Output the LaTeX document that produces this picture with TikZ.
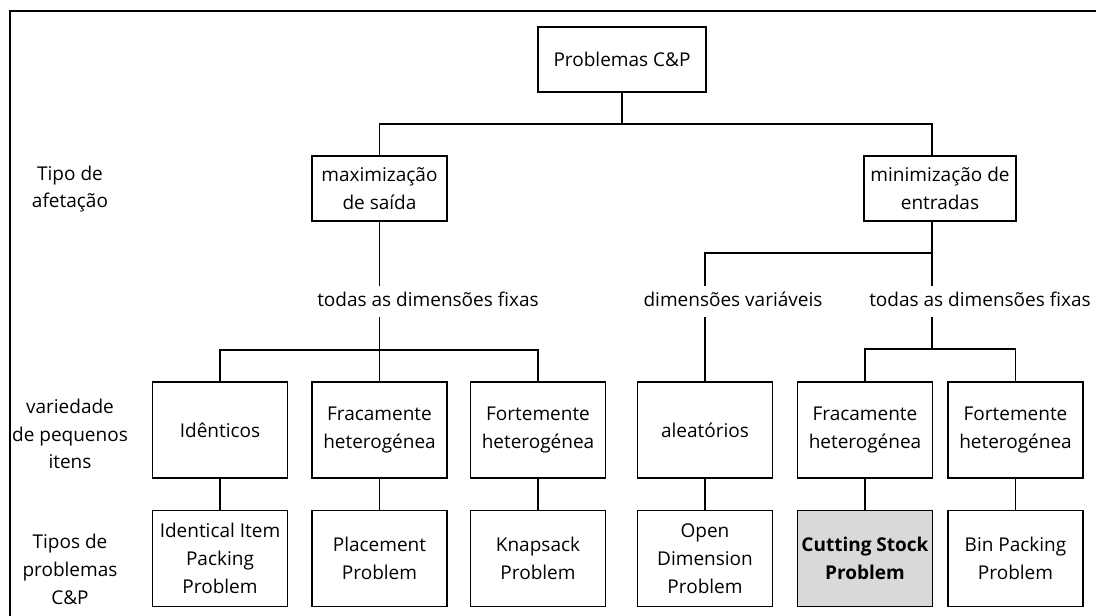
\documentclass[tikz,border=0pt]{standalone}
\usepackage{fontspec}
\setmainfont{Open Sans}
\usepackage{xcolor}
\definecolor{cinzento}{HTML}{D9D9D9}

\begin{document}
\begin{tikzpicture}[x=1pt, y=-1pt,
  caixa/.style={draw, line width=1.3pt, minimum width=\largura pt, minimum height=\altura pt,
    align=center, inner sep=2pt},
  rotulo/.style={align=center, inner sep=0pt, text height=13pt, text depth=4pt, outer sep=0pt},
  ligacao/.style={line width=1.3pt}]
% Parametros das caixas
\def\largura{135}
\def\altura{96}
\def\yC{430}
\def\yD{558.5}
\fontsize{19}{27.8}\selectfont

% Area do desenho e moldura
\useasboundingbox (0,0) rectangle (1096,616);
\draw[line width=1.3pt] (10,616) |- (1096,11);

% Raiz e primeiro nivel
\node[caixa, minimum width=168pt, minimum height=65pt] (topo) at (622,59.5) {Problemas C\&P};
\node[caixa, minimum height=65pt] (maxi) at (379.5,188.5) {maximização\\de saída};
\node[caixa, minimum width=152pt, minimum height=65pt] (mini) at (940,188.5) {minimização de\\entradas};

% Rotulos dos ramos
\node[rotulo] (tdE) at (428,302) {todas as dimensões fixas};
\node[rotulo] (dv) at (733,302) {dimensões variáveis};
\node[rotulo] (tdD) at (980,302) {todas as dimensões fixas};

% Variedade de pequenos itens
\node[caixa] (b1) at (220,\yC) {Idênticos};
\node[caixa] (b2) at (379.5,\yC) {Fracamente\\heterogénea};
\node[caixa] (b3) at (538,\yC) {Fortemente\\heterogénea};
\node[caixa] (b4) at (705,\yC) {aleatórios};
\node[caixa] (b5) at (865,\yC) {Fracamente\\heterogénea};
\node[caixa] (b6) at (1015.5,\yC) {Fortemente\\heterogénea};

% Tipos de problemas
\node[caixa] (p1) at (220,\yD) {Identical Item\\Packing\\Problem};
\node[caixa] (p2) at (379.5,\yD) {Placement\\Problem};
\node[caixa] (p3) at (538,\yD) {Knapsack\\Problem};
\node[caixa] (p4) at (705,\yD) {Open\\Dimension\\Problem};
\node[caixa, fill=cinzento, font=\bfseries] (p5) at (865,\yD) {Cutting Stock\\Problem};
\node[caixa] (p6) at (1015.5,\yD) {Bin Packing\\Problem};

% Legendas a esquerda
\node[align=center] (leg1) at (70,189) {Tipo de\\afetação};
\node[align=center] (leg2) at (70,434) {variedade\\de pequenos\\itens};
\node[align=center] (leg3) at (70,569.5) {Tipos de\\problemas\\C\&P};

% Pontos de ramificacao
\coordinate (ramoT) at (622,124);
\coordinate (ramoD) at (932,253);
\coordinate (ramoE) at (379.5,350);
\coordinate (ramoF) at (932,349);

% Ligacoes
\draw[ligacao] (topo.south) -- (ramoT);
\draw[ligacao] (maxi.north) |- (ramoT) -| (ramoD |- mini.north);
\draw[ligacao] (maxi.south) -- (maxi.south |- 0,286);
\draw[ligacao] (maxi.south |- 0,317) -- (ramoE);
\draw[ligacao] (b1.north) |- (ramoE) -| (b3.north);
\draw[ligacao] (ramoE) -- (b2.north);
\draw[ligacao] (ramoD |- mini.south) -- (ramoD |- 0,286);
\draw[ligacao] (ramoD) -| (b4.north |- 0,286);
\draw[ligacao] (b4.north |- 0,317) -- (b4.north);
\draw[ligacao] (ramoD |- 0,317) -- (ramoF);
\draw[ligacao] (b5.north) |- (ramoF) -| (b6.north);
\foreach \i in {1,...,6}
  \draw[ligacao] (b\i.south) -- (p\i.north);
\end{tikzpicture}
\end{document}
